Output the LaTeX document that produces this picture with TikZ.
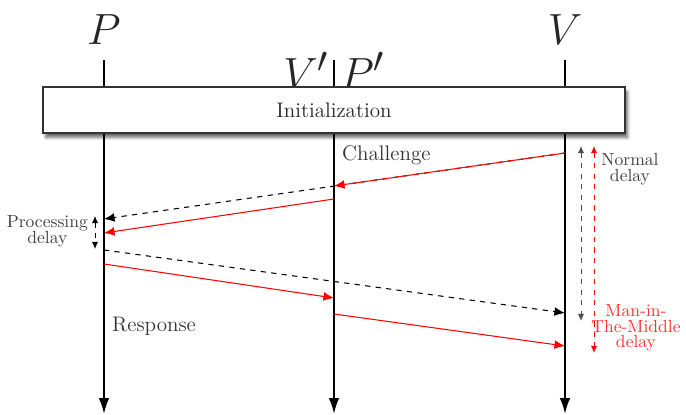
\documentclass[tikz,border=0pt]{standalone}
\usetikzlibrary{arrows.meta,shadows.blur}

\begin{document}
\begin{tikzpicture}[
            x=0.02cm, y=-0.02cm,
            party/.style={
                    font=\Huge,
                    text=black!85,
                    inner sep=0pt
                },
            lifeline/.style={
                    -{Latex[length=9pt,width=6pt]},
                    line width=1.1pt
                },
            tick/.style={
                    line width=1.1pt
                },
            initbox/.style={
                    draw=black!80,
                    fill=white,
                    line width=0.8pt,
                    rectangle,
                    minimum width=11.64cm,
                    minimum height=0.92cm,
                    font=\large,
                    text=black!85,
                    blur shadow={shadow xshift=1.5pt, shadow yshift=-2.5pt,
                                 shadow blur steps=6, shadow opacity=60}
                },
            honest/.style={
                    -{Latex[length=6pt,width=5pt]},
                    dashed,
                    line width=0.6pt
                },
            relay/.style={
                    -{Latex[length=6pt,width=5pt]},
                    color=red,
                    line width=0.6pt
                },
            delay/.style={
                    {Latex[length=4pt,width=3.5pt]}-{Latex[length=4pt,width=3.5pt]},
                    dashed,
                    line width=0.5pt
                },
            label/.style={
                    font=\normalsize,
                    align=center,
                    text=black!75
                },
            phase/.style={
                    font=\large,
                    text=black!80,
                    anchor=west
                }
            ]
            \useasboundingbox (0,0) rectangle (686,415);

            % Participants
            \node[party] (nP) at (104,30) {$P$};
            \node[party] (nV) at (565,30) {$V$};
            \node[party, anchor=east] (nVp) at (329,70) {$V'$};
            \node[party, anchor=west] (nPp) at (340,70) {$P'$};

            % Initialization
            \node[initbox] (init) at (334,110) {Initialization};

            \coordinate (tP) at (104,60);
            \coordinate (tM) at (334,60);
            \coordinate (tV) at (565,60);
            \coordinate (eP) at (104,414);
            \coordinate (eM) at (334,414);
            \coordinate (eV) at (565,414);

            \draw[tick] (tP) -- (tP |- init.north);
            \draw[tick] (tM) -- (tM |- init.north);
            \draw[tick] (tV) -- (tV |- init.north);
            \draw[lifeline] (init.south -| eP) -- (eP);
            \draw[lifeline] (init.south -| eM) -- (eM);
            \draw[lifeline] (init.south -| eV) -- (eV);

            % Challenge
            \node[phase] (chal) at (336,155) {Challenge};
            \coordinate (c1) at (565,153);
            \coordinate (c2) at (104,219);
            \coordinate (c3) at (334,186);
            \coordinate (c4) at (334,199);
            \coordinate (c5) at (104,233);
            \draw[honest] (c1) -- (c2);
            \draw[relay] (c1) -- (c3);
            \draw[relay] (c4) -- (c5);

            % Processing delay
            \coordinate (pd1) at (95,216);
            \coordinate (pd2) at (95,249);
            \draw[delay] (pd1) -- (pd2);
            \node[label, anchor=east, inner sep=1pt] (pdl) at (90,231)
            {Processing\\[-3pt]delay};

            % Response
            \node[phase] (resp) at (106,326) {Response};
            \coordinate (r1) at (104,250);
            \coordinate (r2) at (565,313);
            \coordinate (r3) at (104,264);
            \coordinate (r4) at (334,298);
            \coordinate (r5) at (334,314);
            \coordinate (r6) at (565,346);
            \draw[honest] (r1) -- (r2);
            \draw[relay] (r3) -- (r4);
            \draw[relay] (r5) -- (r6);

            % Delays at V
            \coordinate (nd1) at (581,146);
            \coordinate (nd2) at (581,321);
            \coordinate (md1) at (594,146);
            \coordinate (md2) at (594,353);
            \draw[delay, color=black!70] (nd1) -- (nd2);
            \draw[delay, color=red] (md1) -- (md2);
            \node[label, anchor=north] (ndl) at (630,147)
            {Normal\\[-3pt]delay};
            \node[label, anchor=north, text=red!80] (mdl) at (636,298)
            {Man-in-\\[-3pt]The-Middle\\[-3pt]delay};

        \end{tikzpicture}
\end{document}
